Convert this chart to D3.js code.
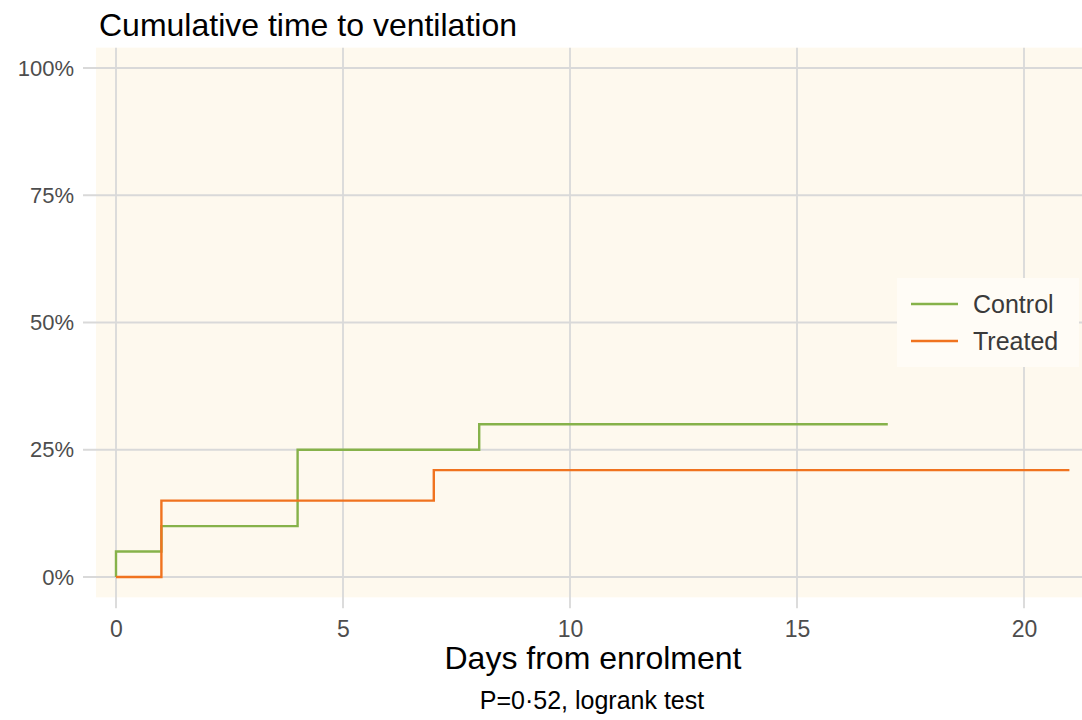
<!DOCTYPE html>
<html>
<head>
<meta charset="utf-8">
<script src="https://cdn.jsdelivr.net/npm/d3@7"></script>
<style>
  body { margin: 0; background: #fff; font-family: "Liberation Sans", Arial, sans-serif; }
</style>
</head>
<body>
<div id="chart"></div>
<script>
// data: step points (day, cumulative proportion)
const controlDays = [0, 0, 1, 4, 8, 17];
const controlValues = [0, 0.05, 0.10, 0.25, 0.30, 0.30];
const treatedDays = [0, 1, 7, 21];
const treatedValues = [0, 0.15, 0.21, 0.21];

const xTicks = [0, 5, 10, 15, 20];
const yTicks = [0, 0.25, 0.5, 0.75, 1];

const seriesNames = ["Control", "Treated"];
const seriesColors = ["#86b24a", "#f0731f"];

const width = 1082, height = 720;
const xScale = d3.scaleLinear().domain([0, 20]).range([116, 1024]);
const yScale = d3.scaleLinear().domain([0, 1]).range([577, 68]);

const panelLeft = xScale(-0.44);
const panelTop = yScale(1.04);
const panelBottom = yScale(-0.04);

const svg = d3.select("#chart").append("svg")
  .attr("width", width)
  .attr("height", height)
  .style("font-family", "'Liberation Sans', Arial, sans-serif");

// panel background
svg.append("rect")
  .attr("x", panelLeft)
  .attr("y", panelTop)
  .attr("width", width - panelLeft)
  .attr("height", panelBottom - panelTop)
  .attr("fill", "#fef9ee");

// grid
const grid = svg.append("g").attr("stroke", "#d9d9d9").attr("stroke-width", 1.8);
grid.selectAll("line.gx").data(xTicks).join("line")
  .attr("x1", d => xScale(d)).attr("x2", d => xScale(d))
  .attr("y1", panelTop).attr("y2", panelBottom + 11);
grid.selectAll("line.gy").data(yTicks).join("line")
  .attr("x1", panelLeft - 13).attr("x2", width)
  .attr("y1", d => yScale(d)).attr("y2", d => yScale(d));

// axes labels
const xAxis = d3.axisBottom(xScale).tickValues(xTicks).tickSize(0).tickPadding(0);
svg.append("g")
  .attr("transform", `translate(0,${panelBottom})`)
  .call(xAxis)
  .call(g => g.select(".domain").remove())
  .call(g => g.selectAll("text")
    .attr("y", 40).attr("dy", null)
    .attr("font-size", 23).attr("fill", "#4d4d4d")
    .attr("font-family", "'Liberation Sans', Arial, sans-serif"));

const yAxis = d3.axisLeft(yScale).tickValues(yTicks).tickFormat(d3.format(".0%")).tickSize(0).tickPadding(12);
svg.append("g")
  .attr("transform", `translate(${panelLeft - 10},0)`)
  .call(yAxis)
  .call(g => g.select(".domain").remove())
  .call(g => g.selectAll("text").attr("font-size", 22).attr("fill", "#4d4d4d")
    .attr("font-family", "'Liberation Sans', Arial, sans-serif"));

// step lines
const line = d3.line()
  .x(d => xScale(d[0]))
  .y(d => yScale(d[1]))
  .curve(d3.curveStepAfter);

const series = [
  d3.zip(controlDays, controlValues),
  d3.zip(treatedDays, treatedValues)
];

svg.selectAll("path.km").data(series).join("path")
  .attr("class", "km")
  .attr("d", line)
  .attr("fill", "none")
  .attr("stroke", (d, i) => seriesColors[i])
  .attr("stroke-width", 2.4);

// legend
const legend = svg.append("g").attr("transform", "translate(897,278)");
legend.append("rect")
  .attr("width", 182).attr("height", 89)
  .attr("fill", "#fffcf6");
seriesNames.forEach((name, i) => {
  const yy = 26 + i * 37;
  legend.append("line")
    .attr("x1", 14).attr("x2", 61).attr("y1", yy).attr("y2", yy)
    .attr("stroke", seriesColors[i]).attr("stroke-width", 2.4);
  legend.append("text")
    .attr("x", 76).attr("y", yy).attr("dy", "0.36em")
    .attr("font-size", 25).attr("fill", "#3a3a3a")
    .text(name);
});

// titles
svg.append("text")
  .attr("x", 99).attr("y", 36)
  .attr("font-size", 32).attr("fill", "#000")
  .text("Cumulative time to ventilation");

svg.append("text")
  .attr("x", 593).attr("y", 669)
  .attr("text-anchor", "middle")
  .attr("font-size", 32).attr("fill", "#000")
  .text("Days from enrolment");

svg.append("text")
  .attr("x", 592).attr("y", 709)
  .attr("text-anchor", "middle")
  .attr("font-size", 25).attr("fill", "#000")
  .text("P=0·52, logrank test");
</script>
</body>
</html>
